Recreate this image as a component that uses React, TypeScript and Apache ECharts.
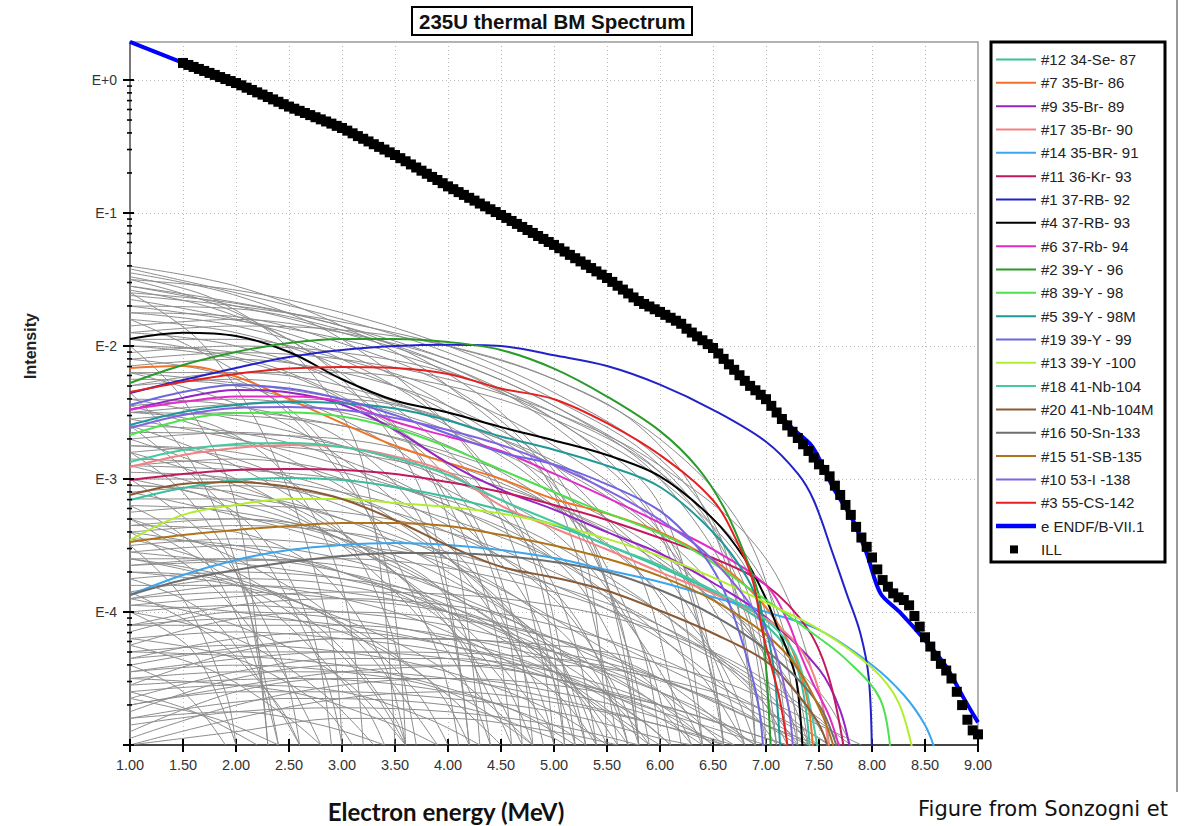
import React, { useEffect, useRef } from "react";
import * as echarts from "echarts";

const FONT = "Liberation Sans, Arial, Helvetica, sans-serif";

// ---- axis scaffolding ----
const xTickMin = 1;
const xTickMax = 9;
const xTickStep = 0.5;
const yMin = 1e-5;
const yMax = 1.93;
const decadeExps = [-5, -4, -3, -2, -1, 0];
const minorMantissas = [2, 3, 4, 5, 6, 7, 8, 9];

// ---- ILL measured spectrum: [energy MeV, log10 intensity] ----
const illPoints = [
  [1.5, 0.128], [1.55, 0.113], [1.6, 0.098], [1.65, 0.083], [1.7, 0.068], [1.75, 0.053], [1.8, 0.038], [1.85, 0.022], [1.9, 0.007], [1.95, -0.008],
  [2.0, -0.023], [2.05, -0.04], [2.1, -0.058], [2.15, -0.075], [2.2, -0.093], [2.25, -0.11], [2.3, -0.128], [2.35, -0.146], [2.4, -0.164], [2.45, -0.182],
  [2.5, -0.2], [2.55, -0.216], [2.6, -0.232], [2.65, -0.248], [2.7, -0.264], [2.75, -0.28], [2.8, -0.296], [2.85, -0.312], [2.9, -0.328], [2.95, -0.345],
  [3.0, -0.361], [3.05, -0.381], [3.1, -0.401], [3.15, -0.422], [3.2, -0.442], [3.25, -0.462], [3.3, -0.483], [3.35, -0.503], [3.4, -0.523], [3.45, -0.544],
  [3.5, -0.564], [3.55, -0.588], [3.6, -0.611], [3.65, -0.635], [3.7, -0.658], [3.75, -0.682], [3.8, -0.705], [3.85, -0.729], [3.9, -0.752], [3.95, -0.776],
  [4.0, -0.8], [4.05, -0.821], [4.1, -0.843], [4.15, -0.864], [4.2, -0.886], [4.25, -0.907], [4.3, -0.929], [4.35, -0.95], [4.4, -0.972], [4.45, -0.993],
  [4.5, -1.015], [4.55, -1.037], [4.6, -1.06], [4.65, -1.082], [4.7, -1.105], [4.75, -1.128], [4.8, -1.15], [4.85, -1.173], [4.9, -1.195], [4.95, -1.218],
  [5.0, -1.24], [5.05, -1.265], [5.1, -1.29], [5.15, -1.315], [5.2, -1.34], [5.25, -1.364], [5.3, -1.389], [5.35, -1.414], [5.4, -1.439], [5.45, -1.464],
  [5.5, -1.489], [5.55, -1.518], [5.6, -1.547], [5.65, -1.576], [5.7, -1.605], [5.75, -1.635], [5.8, -1.662], [5.85, -1.684], [5.9, -1.703], [5.95, -1.724],
  [6.0, -1.744], [6.05, -1.766], [6.1, -1.788], [6.15, -1.81], [6.2, -1.833], [6.25, -1.87], [6.3, -1.899], [6.35, -1.928], [6.4, -1.957], [6.45, -1.986],
  [6.5, -2.015], [6.55, -2.056], [6.6, -2.097], [6.65, -2.138], [6.7, -2.179], [6.75, -2.22], [6.8, -2.262], [6.85, -2.3], [6.9, -2.333], [6.95, -2.367],
  [7.0, -2.4], [7.05, -2.45], [7.1, -2.5], [7.15, -2.549], [7.2, -2.597], [7.25, -2.645], [7.3, -2.692], [7.35, -2.739], [7.4, -2.789], [7.45, -2.839],
  [7.5, -2.89], [7.55, -2.932], [7.6, -2.98], [7.65, -3.05], [7.7, -3.12], [7.75, -3.195], [7.8, -3.27], [7.85, -3.36], [7.9, -3.44], [7.95, -3.51],
  [8.0, -3.59], [8.05, -3.68], [8.1, -3.76], [8.15, -3.81], [8.2, -3.86], [8.25, -3.89], [8.3, -3.91], [8.35, -3.95], [8.4, -4.03], [8.45, -4.11],
  [8.5, -4.19], [8.55, -4.26], [8.6, -4.33], [8.65, -4.39], [8.7, -4.44], [8.75, -4.5], [8.8, -4.6], [8.85, -4.7], [8.9, -4.81], [8.95, -4.89],
  [9.0, -4.92],
];

// ---- ENDF/B-VII.1 summation ----
const endfPoints = [
  [1.0, 0.286], [1.25, 0.207], [1.5, 0.128], [1.75, 0.052], [2.0, -0.023], [2.25, -0.11], [2.5, -0.2], [2.75, -0.28], [3.0, -0.361], [3.25, -0.462],
  [3.5, -0.564], [3.75, -0.682], [4.0, -0.8], [4.25, -0.907], [4.5, -1.015], [4.75, -1.128], [5.0, -1.24], [5.25, -1.364], [5.5, -1.489], [5.75, -1.63],
  [6.0, -1.744], [6.25, -1.87], [6.5, -2.015], [6.75, -2.22], [7.0, -2.41], [7.25, -2.62], [7.44, -2.76], [7.63, -3.06], [7.82, -3.31], [7.95, -3.56],
  [8.08, -3.86], [8.26, -4.0], [8.52, -4.23], [8.7, -4.41], [8.86, -4.64], [9.0, -4.83],
];

// ---- individual fission products: [energy MeV, log10 intensity] ----
const se87 = [[1.0, -3.158], [1.5, -3.068], [2.0, -3.008], [2.5, -2.992], [3.0, -3.008], [3.5, -3.06], [4.0, -3.135], [4.5, -3.233], [5.0, -3.346], [5.5, -3.496], [6.0, -3.662], [6.5, -3.85], [7.0, -4.098], [7.3, -4.436], [7.42, -5.1]];
const br86 = [[1.0, -2.165], [1.5, -2.15], [2.0, -2.23], [2.5, -2.4], [3.0, -2.58], [3.5, -2.75], [4.0, -2.88], [4.5, -3.0], [5.0, -3.15], [5.5, -3.26], [6.0, -3.4], [6.5, -3.61], [6.82, -3.81], [7.07, -4.04], [7.25, -4.29], [7.39, -4.66], [7.45, -5.1]];
const br89 = [[1.0, -2.48], [1.5, -2.39], [2.0, -2.33], [2.5, -2.35], [3.0, -2.44], [3.5, -2.63], [4.0, -2.88], [4.5, -3.08], [5.0, -3.23], [5.5, -3.4], [6.0, -3.56], [6.5, -3.78], [7.0, -4.04], [7.5, -4.43], [7.7, -4.74], [7.81, -5.1]];
const br90 = [[1.0, -2.91], [1.5, -2.82], [2.0, -2.767], [2.5, -2.744], [3.0, -2.76], [3.5, -2.83], [4.0, -2.95], [4.5, -3.2], [5.0, -3.37], [5.5, -3.53], [6.0, -3.7], [6.5, -3.86], [7.0, -4.05], [7.3, -4.25], [7.5, -4.59], [7.6, -5.1]];
const br91 = [[1.0, -3.872], [1.5, -3.722], [2.0, -3.609], [2.5, -3.534], [3.0, -3.496], [3.5, -3.481], [4.0, -3.496], [4.5, -3.534], [5.0, -3.594], [5.5, -3.684], [6.0, -3.774], [6.5, -3.887], [7.0, -4.0], [7.5, -4.135], [8.0, -4.398], [8.3, -4.624], [8.5, -4.85], [8.6, -5.05]];
const kr93 = [[1.0, -3.008], [1.5, -2.962], [2.0, -2.932], [2.5, -2.925], [3.0, -2.932], [3.5, -2.962], [4.0, -3.023], [4.5, -3.098], [5.0, -3.195], [5.5, -3.308], [6.0, -3.444], [6.5, -3.594], [7.0, -3.797], [7.4, -4.135], [7.6, -4.511], [7.75, -5.1]];
const rb92 = [[1.0, -2.353], [1.5, -2.256], [2.0, -2.165], [2.5, -2.083], [3.0, -2.03], [3.5, -2.0], [4.0, -1.99], [4.5, -2.0], [5.0, -2.07], [5.5, -2.15], [6.0, -2.29], [6.5, -2.48], [7.0, -2.72], [7.3, -2.96], [7.45, -3.16], [7.63, -3.56], [7.76, -3.86], [7.89, -4.16], [7.97, -4.5], [8.0, -5.1]];
const rb93 = [[1.0, -1.947], [1.5, -1.9], [2.0, -1.925], [2.5, -2.045], [3.0, -2.25], [3.5, -2.41], [4.0, -2.5], [4.5, -2.61], [5.0, -2.71], [5.5, -2.82], [6.0, -2.98], [6.5, -3.3], [6.8, -3.6], [7.0, -3.9], [7.1, -4.1], [7.2, -4.29], [7.29, -4.53], [7.35, -5.1]];
const rb94 = [[1.0, -2.48], [1.5, -2.42], [2.0, -2.38], [2.5, -2.38], [3.0, -2.42], [3.5, -2.57], [4.0, -2.68], [4.5, -2.79], [5.0, -2.96], [5.5, -3.14], [6.0, -3.33], [6.5, -3.53], [7.0, -3.8], [7.2, -4.06], [7.32, -4.31], [7.44, -4.53], [7.6, -4.79], [7.72, -5.1]];
const y96 = [[1.0, -2.278], [1.5, -2.143], [2.0, -2.045], [2.5, -1.977], [3.0, -1.947], [3.5, -1.947], [4.0, -1.97], [4.5, -2.03], [5.0, -2.17], [5.5, -2.38], [6.0, -2.64], [6.35, -2.91], [6.6, -3.21], [6.82, -3.61], [6.94, -3.91], [7.0, -4.41], [7.05, -5.1]];
const y98 = [[1.0, -2.669], [1.5, -2.556], [2.0, -2.504], [2.5, -2.5], [3.0, -2.53], [3.5, -2.62], [4.0, -2.76], [4.5, -2.93], [5.25, -3.18], [6.19, -3.48], [6.82, -3.81], [7.44, -4.16], [7.76, -4.36], [8.08, -4.66], [8.18, -5.1]];
const y98m = [[1.0, -2.594], [1.5, -2.496], [2.0, -2.444], [2.5, -2.421], [3.0, -2.43], [3.5, -2.47], [4.0, -2.56], [4.5, -2.68], [5.0, -2.78], [5.5, -2.9], [6.0, -3.06], [6.5, -3.4], [6.82, -3.74], [6.97, -4.04], [7.07, -4.41], [7.14, -5.1]];
const y99 = [[1.0, -2.444], [1.5, -2.346], [2.0, -2.293], [2.5, -2.32], [3.0, -2.4], [3.5, -2.52], [4.0, -2.66], [4.5, -2.8], [5.0, -2.89], [5.5, -3.04], [6.0, -3.24], [6.35, -3.51], [6.57, -3.78], [6.75, -4.16], [6.92, -4.66], [6.98, -5.1]];
const y100 = [[1.0, -3.459], [1.5, -3.27], [2.0, -3.195], [2.5, -3.15], [3.0, -3.15], [3.5, -3.18], [4.0, -3.21], [4.5, -3.26], [5.0, -3.34], [5.5, -3.45], [6.0, -3.58], [6.5, -3.74], [7.0, -3.93], [7.5, -4.13], [8.0, -4.42], [8.25, -4.68], [8.4, -5.1]];
const nb104 = [[1.0, -2.872], [1.5, -2.782], [2.0, -2.737], [2.5, -2.729], [3.0, -2.759], [3.5, -2.842], [4.0, -2.97], [4.5, -3.158], [5.0, -3.323], [5.5, -3.496], [6.0, -3.647], [6.5, -3.835], [7.0, -4.06], [7.3, -4.361], [7.5, -5.1]];
const nb104m = [[1.0, -3.12], [1.5, -3.038], [2.0, -3.023], [2.5, -3.06], [3.0, -3.15], [3.5, -3.31], [4.0, -3.5], [4.5, -3.66], [5.0, -3.74], [5.5, -3.84], [6.0, -3.99], [6.5, -4.16], [7.0, -4.37], [7.29, -4.61], [7.51, -4.86], [7.61, -5.1]];
const sn133 = [[1.0, -3.872], [1.5, -3.759], [2.0, -3.684], [2.5, -3.624], [3.0, -3.579], [3.5, -3.556], [4.0, -3.556], [4.5, -3.579], [5.0, -3.624], [5.5, -3.699], [6.0, -3.835], [6.5, -4.023], [7.0, -4.286], [7.5, -4.699], [7.7, -5.1]];
const sb135 = [[1.0, -3.474], [1.5, -3.421], [2.0, -3.383], [2.5, -3.353], [3.0, -3.331], [3.5, -3.331], [4.0, -3.353], [4.5, -3.42], [5.0, -3.5], [5.5, -3.6], [6.0, -3.73], [6.5, -3.91], [7.0, -4.17], [7.29, -4.414], [7.54, -4.79], [7.67, -5.1]];
const i138 = [[1.0, -2.617], [1.5, -2.519], [2.0, -2.466], [2.5, -2.459], [3.0, -2.48], [3.5, -2.541], [4.0, -2.632], [4.5, -2.744], [5.0, -2.895], [5.5, -3.083], [6.0, -3.308], [6.5, -3.61], [7.0, -4.135], [7.2, -4.66], [7.26, -5.1]];
const cs142 = [[1.0, -2.346], [1.5, -2.27], [2.0, -2.21], [2.5, -2.17], [3.0, -2.158], [3.5, -2.165], [4.0, -2.21], [4.5, -2.32], [5.0, -2.4], [5.5, -2.58], [6.0, -2.82], [6.5, -3.16], [6.75, -3.51], [6.88, -3.78], [6.97, -4.16], [7.13, -4.66], [7.22, -5.1]];

const isotopeNames = [
  "#12 34-Se- 87", "#7 35-Br- 86", "#9 35-Br- 89", "#17 35-Br- 90", "#14 35-BR- 91",
  "#11 36-Kr- 93", "#1 37-RB- 92", "#4 37-RB- 93", "#6 37-Rb- 94", "#2 39-Y - 96",
  "#8 39-Y - 98", "#5 39-Y - 98M", "#19 39-Y - 99", "#13 39-Y -100", "#18 41-Nb-104",
  "#20 41-Nb-104M", "#16 50-Sn-133", "#15 51-SB-135", "#10 53-I -138", "#3 55-CS-142",
];
const isotopeData = [se87, br86, br89, br90, br91, kr93, rb92, rb93, rb94, y96, y98, y98m, y99, y100, nb104, nb104m, sn133, sb135, i138, cs142];
const isotopeColors = [
  "#3cbf9c", "#f07428", "#9424c4", "#f28482", "#3aa6ee",
  "#c2185e", "#2222c8", "#000000", "#e22cc8", "#2a9a2a",
  "#4ee24e", "#1e9898", "#6e66e0", "#b2ee2e", "#46c8a2",
  "#8a5a34", "#6e6e6e", "#b07418", "#8462e2", "#e42020",
];

// ---- other individual beta spectra (grey background) ----
const greyCurves = [
  [[1, -1.4], [2, -1.55], [3, -1.85], [4, -2.3], [5, -3.1], [5.6, -5]],
  [[1, -1.45], [2, -1.62], [3, -1.95], [4, -2.6], [4.8, -3.6], [5.1, -5]],
  [[1, -1.5], [2, -1.75], [3, -2.25], [3.8, -3.2], [4.2, -5]],
  [[1, -1.55], [2, -1.7], [3, -1.9], [4, -2.15], [5, -2.55], [6, -3.2], [6.6, -5]],
  [[1, -1.6], [2, -1.68], [3, -1.85], [4, -2.1], [5, -2.45], [6, -3.0], [6.8, -4.0], [7.0, -5]],
  [[1, -1.48], [1.8, -1.65], [2.6, -2.1], [3.2, -2.9], [3.5, -5]],
  [[1, -1.65], [2, -1.8], [3, -2.05], [4, -2.45], [5, -3.05], [5.8, -4.2], [6.0, -5]],
  [[1, -1.7], [2, -1.72], [3, -1.88], [4, -2.15], [5, -2.6], [6, -3.4], [6.4, -5]],
  [[1, -1.75], [2, -1.85], [3, -2.1], [4, -2.6], [4.8, -3.5], [5.2, -5]],
  [[1, -1.8], [2, -1.9], [3, -2.15], [4, -2.5], [5, -3.1], [5.5, -3.8], [5.8, -5]],
  [[1, -1.85], [2, -1.8], [3, -1.9], [4, -2.1], [5, -2.45], [6, -2.95], [6.7, -3.7], [7.1, -5]],
  [[1, -1.9], [2, -2.0], [3, -2.3], [3.8, -2.9], [4.4, -4], [4.6, -5]],
  [[1, -1.95], [2, -1.95], [3, -2.1], [4, -2.35], [5, -2.75], [6, -3.4], [6.5, -4.5], [6.6, -5]],
  [[1, -2.0], [2, -2.1], [3, -2.4], [4, -3.0], [4.6, -4.0], [4.8, -5]],
  [[1, -2.05], [2, -2.0], [3, -2.05], [4, -2.2], [5, -2.5], [6, -2.95], [7, -3.8], [7.4, -5]],
  [[1, -2.1], [2, -2.25], [2.8, -2.7], [3.4, -3.6], [3.6, -5]],
  [[1, -2.15], [2, -2.1], [3, -2.2], [4, -2.45], [5, -2.9], [5.8, -3.7], [6.2, -5]],
  [[1, -2.2], [2, -2.2], [3, -2.3], [4, -2.6], [5, -3.15], [5.6, -4], [5.8, -5]],
  [[1, -2.25], [2, -2.3], [3, -2.55], [4, -3.1], [4.5, -3.9], [4.7, -5]],
  [[1, -2.3], [2, -2.25], [3, -2.35], [4, -2.55], [5, -2.9], [6, -3.45], [6.8, -4.4], [7.0, -5]],
  [[1, -2.4], [2, -2.45], [3, -2.7], [3.8, -3.4], [4.2, -5]],
  [[1, -2.45], [2, -2.4], [3, -2.5], [4, -2.75], [5, -3.2], [6, -3.9], [6.4, -5]],
  [[1, -2.5], [1.8, -2.6], [2.5, -3.0], [3.0, -3.8], [3.2, -5]],
  [[1, -2.55], [2, -2.5], [3, -2.6], [4, -2.8], [5, -3.1], [6, -3.55], [7, -4.3], [7.3, -5]],
  [[1, -2.6], [2, -2.65], [3, -2.85], [4, -3.25], [4.8, -4.0], [5.1, -5]],
  [[1, -2.7], [2, -2.65], [3, -2.75], [4, -3.0], [5, -3.4], [5.8, -4.2], [6.1, -5]],
  [[1, -2.75], [2, -2.85], [2.8, -3.2], [3.4, -4], [3.7, -5]],
  [[1, -2.8], [2, -2.75], [3, -2.8], [4, -2.95], [5, -3.2], [6, -3.6], [7, -4.3], [7.6, -5]],
  [[1, -2.85], [2, -2.9], [3, -3.1], [4, -3.5], [4.6, -4.2], [4.9, -5]],
  [[1, -2.9], [2, -2.85], [3, -2.95], [4, -3.2], [5, -3.6], [5.6, -4.3], [5.8, -5]],
  [[1, -3.0], [2, -3.0], [3, -3.1], [4, -3.3], [5, -3.6], [6, -4.0], [6.9, -4.6], [7.2, -5]],
  [[1, -3.05], [1.6, -3.1], [2.2, -3.4], [2.7, -4.1], [2.9, -5]],
  [[1, -3.1], [2, -3.05], [3, -3.15], [4, -3.4], [5, -3.85], [5.5, -4.5], [5.7, -5]],
  [[1, -3.2], [2, -3.25], [3, -3.45], [4, -3.9], [4.4, -5]],
  [[1, -3.25], [2, -3.2], [3, -3.25], [4, -3.4], [5, -3.7], [6, -4.1], [7, -4.6], [7.4, -5]],
  [[1, -3.3], [2, -3.3], [3, -3.45], [4, -3.75], [5, -4.3], [5.3, -5]],
  [[1, -3.35], [2, -3.4], [2.8, -3.7], [3.4, -4.4], [3.6, -5]],
  [[1, -3.4], [2, -3.35], [3, -3.4], [4, -3.55], [5, -3.8], [6, -4.2], [6.8, -4.7], [7.1, -5]],
  [[1, -3.45], [2, -3.5], [3, -3.7], [4, -4.1], [4.7, -5]],
  [[1, -3.5], [2, -3.45], [3, -3.5], [4, -3.6], [5, -3.8], [6, -4.1], [7, -4.55], [7.8, -5]],
  [[1, -3.6], [2, -3.6], [3, -3.7], [4, -3.95], [5, -4.4], [5.6, -5]],
  [[1, -3.65], [2, -3.6], [3, -3.65], [4, -3.8], [5, -4.05], [6, -4.4], [7, -4.8], [7.4, -5]],
  [[1, -3.7], [1.8, -3.75], [2.5, -4.0], [3.2, -4.5], [3.6, -5]],
  [[1, -3.75], [2, -3.7], [3, -3.75], [4, -3.9], [5, -4.2], [6, -4.6], [6.6, -5]],
  [[1, -3.8], [2, -3.8], [3, -3.9], [4, -4.15], [5, -4.6], [5.4, -5]],
  [[1, -3.9], [2, -3.85], [3, -3.9], [4, -4.0], [5, -4.2], [6, -4.5], [7, -4.85], [7.5, -5]],
  [[1, -3.95], [2, -4.0], [3, -4.15], [3.8, -4.5], [4.5, -5]],
  [[1, -4.0], [2, -3.95], [3, -4.0], [4, -4.1], [5, -4.3], [6, -4.6], [6.9, -5]],
  [[1, -4.1], [2, -4.05], [3, -4.1], [4, -4.25], [5, -4.5], [5.9, -5]],
  [[1, -4.2], [2, -4.15], [3, -4.2], [4, -4.3], [5, -4.5], [6, -4.75], [7, -5]],
  [[1, -4.3], [2, -4.25], [3, -4.3], [4, -4.45], [5, -4.75], [5.5, -5]],
  [[1, -4.35], [2, -4.3], [3, -4.3], [4, -4.35], [5, -4.5], [6, -4.7], [7, -4.95], [7.2, -5]],
  [[1, -4.45], [2, -4.4], [3, -4.45], [4, -4.6], [4.8, -5]],
  [[1, -4.5], [2, -4.45], [3, -4.45], [4, -4.5], [5, -4.65], [6, -4.85], [6.6, -5]],
  [[1, -4.6], [2, -4.55], [3, -4.6], [3.8, -4.8], [4.3, -5]],
  [[1, -4.7], [2, -4.6], [3, -4.6], [4, -4.65], [5, -4.75], [6, -4.95], [6.3, -5]],
  [[1, -4.8], [2, -4.75], [2.8, -4.85], [3.4, -5]],
  [[1, -4.85], [2, -4.75], [3, -4.72], [4, -4.75], [5, -4.85], [5.8, -5]],
  [[1, -2.0], [1.5, -2.4], [2.0, -3.2], [2.3, -5]],
  [[1, -2.35], [1.6, -2.9], [2.1, -3.9], [2.3, -5]],
  [[1, -1.6], [1.7, -2.0], [2.4, -2.9], [2.9, -4.2], [3.0, -5]],
  [[1, -2.6], [2.0, -3.3], [2.8, -4.4], [3.0, -5]],
  [[1, -1.8], [2.2, -2.3], [3.2, -3.2], [3.9, -4.3], [4.1, -5]],
  [[1, -3.0], [1.8, -3.5], [2.4, -4.3], [2.6, -5]],
  [[1, -2.2], [2.5, -2.6], [3.8, -3.4], [4.8, -4.5], [5.0, -5]],
  [[1, -1.95], [2.5, -2.2], [4.0, -2.9], [5.0, -3.8], [5.4, -5]],
  [[1, -3.3], [2.2, -3.9], [3.2, -4.7], [3.4, -5]],
  [[1, -2.9], [2.6, -3.3], [4.0, -4.0], [4.9, -4.8], [5.0, -5]],
  [[1, -3.6], [2.5, -3.9], [3.8, -4.5], [4.2, -5]],
  [[1, -1.42], [2.0, -1.6], [3.0, -1.8], [4.0, -2.05], [5.0, -2.4], [6.0, -2.9], [6.8, -3.8], [7.1, -5]],
  [[1, -1.7], [3, -1.95], [4.5, -2.35], [5.5, -2.85], [6.3, -3.8], [6.6, -5]],
  [[1, -2.5], [3, -2.4], [4.5, -2.7], [5.5, -3.1], [6.5, -3.8], [7.2, -4.6], [7.4, -5]],
  [[1, -2.65], [3, -2.7], [5, -3.2], [6.5, -3.9], [7.5, -4.6], [7.8, -5]],
  [[1, -1.55], [2.5, -1.75], [3.5, -2.0], [4.5, -2.5], [5.2, -3.2], [5.7, -4.3], [5.9, -5]],
  [[1, -4.0], [1.6, -4.3], [2.0, -5]],
  [[1, -3.5], [1.5, -3.9], [1.9, -4.6], [2.0, -5]],
  [[1, -1.5], [2, -1.58], [3, -1.75], [4, -2.0], [5, -2.35], [6, -2.85], [6.6, -3.5], [6.9, -5]],
  [[1, -1.62], [2, -1.7], [3, -1.82], [4, -2.0], [5, -2.25], [5.8, -2.6], [6.4, -3.2], [6.8, -4.2], [6.9, -5]],
  [[1, -1.9], [2, -1.85], [3, -1.88], [4, -2.0], [5, -2.25], [6, -2.7], [6.8, -3.4], [7.2, -4.4], [7.3, -5]],
  [[1, -2.1], [2, -2.05], [3, -2.1], [4, -2.25], [5, -2.5], [6, -2.9], [7, -3.6], [7.5, -4.6], [7.6, -5]],
  [[1, -2.3], [2, -2.2], [3, -2.2], [4, -2.3], [5, -2.55], [6, -3.0], [6.9, -3.8], [7.2, -5]],
  [[1, -1.75], [2, -1.78], [3, -1.98], [4, -2.3], [4.8, -2.8], [5.3, -3.6], [5.5, -5]],
  [[1, -1.58], [1.8, -1.72], [2.6, -2.0], [3.4, -2.5], [4.0, -3.3], [4.3, -5]],
  [[1, -2.0], [2, -2.05], [3, -2.25], [3.8, -2.65], [4.5, -3.3], [4.9, -4.4], [5.0, -5]],
  [[1, -4.1], [2, -3.95], [3, -3.9], [4, -3.95], [5, -4.1], [6, -4.35], [7, -4.75], [7.5, -5]],
  [[1, -4.25], [2, -4.05], [3, -4.0], [4, -4.05], [5, -4.2], [6, -4.5], [6.8, -5]],
  [[1, -4.55], [2, -4.3], [3, -4.2], [4, -4.2], [5, -4.3], [6, -4.5], [7, -4.85], [7.4, -5]],
  [[1, -4.65], [2, -4.45], [3, -4.35], [4, -4.35], [5, -4.45], [6, -4.7], [6.7, -5]],
  [[1, -4.9], [2, -4.6], [3, -4.5], [4, -4.5], [5, -4.6], [6, -4.8], [6.6, -5]],
  [[1, -5.0], [2, -4.8], [3, -4.65], [4, -4.6], [5, -4.68], [6, -4.85], [6.7, -5]],
  [[1, -5.0], [2, -4.9], [3, -4.8], [4, -4.8], [5, -4.9], [5.6, -5]],
  [[1, -3.85], [2, -3.75], [3, -3.8], [4, -4.0], [5, -4.35], [5.8, -4.8], [6.1, -5]],
  [[1, -3.55], [2, -3.5], [3, -3.6], [4, -3.85], [5, -4.25], [5.7, -4.8], [5.9, -5]],
  [[1, -3.15], [2, -3.15], [3, -3.3], [4, -3.6], [5, -4.1], [5.5, -4.6], [5.7, -5]],
  [[1, -2.95], [2, -3.0], [3, -3.2], [4, -3.6], [4.8, -4.2], [5.2, -5]],
  [[1, -3.9], [2, -4.1], [3, -4.5], [3.6, -5]],
  [[1, -3.3], [2, -3.6], [3, -4.1], [3.9, -5]],
  [[1, -2.7], [2, -3.0], [3, -3.5], [4, -4.3], [4.4, -5]],
  [[1, -2.8], [2.5, -3.2], [3.5, -3.7], [4.5, -4.5], [4.8, -5]],
  [[1, -3.1], [3, -3.5], [4.5, -4.1], [5.5, -4.8], [5.7, -5]],
  [[1, -3.4], [3, -3.7], [4.5, -4.2], [5.8, -4.9], [6.0, -5]],
  [[1, -2.4], [3, -2.75], [4.5, -3.3], [5.5, -3.9], [6.2, -4.7], [6.4, -5]],
  [[1, -2.55], [3, -2.9], [5, -3.6], [6.3, -4.4], [6.8, -5]],
  [[1, -4.4], [1.5, -4.6], [1.9, -5]],
  [[1, -4.6], [1.6, -4.75], [2.2, -5]],
  [[1, -3.2], [1.6, -3.5], [2.1, -4.2], [2.4, -5]],
  [[1, -3.75], [1.7, -4.0], [2.3, -4.6], [2.6, -5]],
  [[1, -2.8], [1.5, -3.1], [2.0, -3.7], [2.3, -4.6], [2.4, -5]],
  [[1, -4.2], [2, -4.35], [2.8, -4.7], [3.1, -5]],
  [[1, -4.5], [2.5, -4.6], [3.5, -4.85], [3.9, -5]],
  [[1, -4.4], [3, -4.2], [5, -4.25], [6.5, -4.5], [7.5, -4.85], [7.9, -5]],
  [[1, -4.7], [3, -4.45], [5, -4.4], [6.5, -4.6], [7.4, -4.9], [7.6, -5]],
  [[1, -3.95], [3, -3.85], [5, -3.95], [6.5, -4.3], [7.5, -4.8], [7.7, -5]],
  [[1, -4.15], [2, -4.0], [3, -4.05], [4, -4.2], [5, -4.45], [5.8, -4.8], [6.1, -5]],
  [[1, -4.35], [2, -4.2], [3, -4.15], [4, -4.25], [5, -4.45], [6, -4.8], [6.4, -5]],
  [[1, -4.75], [2, -4.5], [3, -4.4], [4, -4.4], [5, -4.5], [6, -4.75], [6.5, -5]],
  [[1, -4.95], [2, -4.7], [3, -4.55], [4, -4.5], [5, -4.55], [6, -4.7], [7, -4.95], [7.2, -5]],
  [[1, -3.7], [2, -3.8], [3, -4.05], [4, -4.45], [4.8, -5]],
  [[1, -3.6], [2, -3.75], [3, -4.1], [3.7, -4.6], [4.0, -5]],
  [[1, -4.0], [2, -4.2], [2.8, -4.6], [3.3, -5]],
  [[1, -3.45], [2, -3.7], [2.9, -4.2], [3.5, -4.8], [3.6, -5]],
  [[1, -2.6], [2, -2.9], [3, -3.4], [4, -4.1], [4.6, -5]],
  [[1, -2.45], [2.5, -2.85], [4, -3.6], [5, -4.4], [5.3, -5]],
  [[1, -3.0], [2.5, -3.3], [4, -3.85], [5.2, -4.6], [5.5, -5]],
  [[1, -3.55], [3, -3.75], [4.5, -4.1], [5.8, -4.6], [6.3, -5]],
  [[1, -4.1], [3, -4.1], [5, -4.35], [6.3, -4.7], [6.9, -5]],
  [[1, -4.3], [3, -4.4], [4.5, -4.7], [5.2, -5]],
  [[1, -4.55], [2.5, -4.5], [4, -4.6], [5, -4.85], [5.3, -5]],
  [[1, -4.8], [2.5, -4.65], [4, -4.7], [5, -4.95], [5.1, -5]],
  [[1, -3.9], [2, -3.8], [3, -3.85], [4, -4.0], [5, -4.3], [6, -4.7], [6.5, -5]],
  [[1, -3.35], [2, -3.3], [3, -3.4], [4, -3.65], [5, -4.05], [6, -4.6], [6.3, -5]],
  [[1, -3.05], [2, -3.1], [3, -3.3], [4, -3.7], [5, -4.3], [5.4, -5]],
  [[1, -2.75], [2, -2.8], [3, -3.0], [4, -3.35], [5, -3.9], [5.6, -4.6], [5.8, -5]],
  [[1, -4.25], [1.8, -4.45], [2.5, -4.8], [2.8, -5]],
  [[1, -3.85], [1.8, -4.2], [2.4, -4.7], [2.6, -5]],
  [[1, -4.65], [1.8, -4.8], [2.4, -5]],
  [[1, -3.4], [1.7, -3.75], [2.4, -4.4], [2.8, -5]],
  [[1, -3.65], [3, -3.6], [5, -3.85], [6.5, -4.35], [7.4, -4.9], [7.6, -5]],
  [[1, -4.45], [3, -4.3], [5, -4.35], [6.5, -4.65], [7.3, -5]],
  [[1, -2.2], [3, -2.4], [4.5, -2.8], [5.5, -3.3], [6.3, -4.0], [6.8, -5]],
  [[1, -2.5], [3, -2.6], [4.5, -3.0], [5.5, -3.5], [6.5, -4.3], [6.9, -5]],
  [[1, -2.9], [3, -3.0], [4.5, -3.3], [6, -4.0], [7, -4.7], [7.3, -5]],
];

const toData = (pts: number[][]) => pts.map(([e, l]) => [e, Math.pow(10, l)]);

const svgIcon = (body: string) =>
  "image://data:image/svg+xml;charset=utf-8," +
  encodeURIComponent(
    '<svg xmlns="http://www.w3.org/2000/svg" width="40" height="12" viewBox="0 0 40 12">' + body + "</svg>"
  );
const lineIcon = (color: string, w: number) =>
  svgIcon('<line x1="0" y1="6" x2="40" y2="6" stroke="' + color + '" stroke-width="' + w + '"/>');
const illIcon = svgIcon('<rect x="14" y="2" width="8" height="8" fill="#000"/>');

function buildOption() {
  const series: any[] = [];
  greyCurves.forEach((c) => {
    series.push({
      type: "line",
      data: toData(c),
      smooth: 0.35,
      symbol: "none",
      showSymbol: false,
      silent: true,
      clip: true,
      lineStyle: { color: "#8c8c8c", width: 1 },
      z: 2,
    });
  });
  isotopeNames.forEach((name, i) => {
    series.push({
      name,
      type: "line",
      data: toData(isotopeData[i]),
      smooth: 0.35,
      symbol: "none",
      showSymbol: false,
      silent: true,
      clip: true,
      lineStyle: { color: isotopeColors[i], width: 2 },
      itemStyle: { color: isotopeColors[i] },
      z: 3,
    });
  });
  series.push({
    name: "e ENDF/B-VII.1",
    type: "line",
    data: toData(endfPoints),
    smooth: 0.3,
    symbol: "none",
    showSymbol: false,
    silent: true,
    clip: true,
    lineStyle: { color: "#0000ff", width: 4 },
    itemStyle: { color: "#0000ff" },
    z: 4,
  });
  series.push({
    name: "ILL",
    type: "scatter",
    data: toData(illPoints),
    symbol: "rect",
    symbolSize: 10,
    silent: true,
    itemStyle: { color: "#000000", opacity: 1 },
    z: 5,
  });
  const tickData: number[][] = [];
  decadeExps.forEach((d) => {
    tickData.push([xTickMin, Math.pow(10, d), 1]);
    minorMantissas.forEach((m) => {
      const v = m * Math.pow(10, d);
      if (v < yMax) tickData.push([xTickMin, v, 0]);
    });
  });
  series.push({
    type: "custom",
    silent: true,
    clip: false,
    z: 10,
    data: tickData,
    renderItem: (params: any, api: any) => {
      const p = api.coord([api.value(0), api.value(1)]);
      const major = api.value(2) === 1;
      return {
        type: "line",
        shape: { x1: p[0] - (major ? 7 : 3), y1: p[1], x2: p[0] + (major ? 4 : 2), y2: p[1] },
        style: { stroke: "#000", lineWidth: major ? 2 : 1.6 },
      };
    },
  });

  const legendData: any[] = isotopeNames.map((n, i) => ({ name: n, icon: lineIcon(isotopeColors[i], 2) }));
  legendData.push({ name: "e ENDF/B-VII.1", icon: lineIcon("#0000ff", 4.5) });
  legendData.push({ name: "ILL", icon: illIcon });

  return {
    animation: false,
    backgroundColor: "#ffffff",
    title: {
      text: "235U thermal BM Spectrum",
      left: 412,
      top: 7,
      padding: [4, 7, 3, 7],
      borderColor: "#000",
      borderWidth: 2,
      textStyle: { fontSize: 20.5, fontWeight: "bold", fontFamily: FONT, color: "#111" },
    },
    grid: {
      left: 130,
      top: 42,
      width: 848,
      height: 703,
      show: true,
      borderColor: "#999",
      borderWidth: 1.5,
    },
    legend: {
      orient: "vertical",
      left: 996,
      top: 52,
      padding: 0,
      itemWidth: 40,
      itemHeight: 12,
      itemGap: 8.33,
      selectedMode: false,
      data: legendData,
      textStyle: { fontSize: 15, color: "#222", fontFamily: FONT },
    },
    xAxis: [
      {
        type: "value",
        min: xTickMin,
        max: xTickMax,
        interval: xTickStep,
        axisLine: { lineStyle: { color: "#444", width: 2 } },
        axisTick: { length: 7, lineStyle: { color: "#000", width: 2 } },
        axisLabel: {
          formatter: (v: number) => v.toFixed(2),
          color: "#333",
          fontSize: 14.5,
          fontFamily: FONT,
          margin: 12,
        },
        splitLine: { show: true, lineStyle: { color: "#b8b8b8", type: [1, 3], width: 1 } },
      },
      {
        type: "value",
        min: xTickMin,
        max: xTickMax,
        interval: xTickStep,
        position: "bottom",
        axisLine: { show: false },
        axisTick: { inside: true, length: 6, lineStyle: { color: "#000", width: 2 } },
        axisLabel: { show: false },
        splitLine: { show: false },
      },
    ],
    yAxis: {
      type: "log",
      logBase: 10,
      min: yMin,
      max: yMax,
      axisLine: { show: true, lineStyle: { color: "#666", width: 1.5 } },
      axisTick: { show: false },
      minorTick: { show: false },
      axisLabel: {
        formatter: (v: number) => {
          const l = Math.log10(v);
          const e = Math.round(l);
          if (Math.abs(l - e) > 0.01 || e === -5) return "";
          return "E" + (e >= 0 ? "+" : "") + e;
        },
        color: "#333",
        fontSize: 14,
        fontFamily: FONT,
        margin: 13,
      },
      splitLine: { show: true, lineStyle: { color: "#b8b8b8", type: [1, 3], width: 1 } },
    },
    graphic: [
      {
        type: "rect",
        shape: { x: 991, y: 42, width: 174, height: 520 },
        style: { fill: "none", stroke: "#000", lineWidth: 3 },
        silent: true,
      },
      {
        type: "line",
        shape: { x1: 1177, y1: 0, x2: 1177, y2: 792 },
        style: { stroke: "#9a9a9a", lineWidth: 2 },
        silent: true,
      },
      {
        type: "text",
        x: 30,
        y: 346,
        rotation: Math.PI / 2,
        style: {
          text: "Intensity",
          font: "bold 16px Liberation Sans, Arial, sans-serif",
          fill: "#222",
          textAlign: "center",
          textVerticalAlign: "middle",
        },
        silent: true,
      },
      {
        type: "text",
        x: 446,
        y: 811,
        style: {
          text: "Electron energy (MeV)",
          font: "bold 24px Lato, sans-serif",
          fill: "#111",
          textAlign: "center",
          textVerticalAlign: "middle",
        },
        silent: true,
      },
      {
        type: "text",
        x: 918,
        y: 809,
        style: {
          text: "Figure from Sonzogni et",
          font: "21px Comic Sans MS, DejaVu Sans, sans-serif",
          fill: "#111",
          textAlign: "left",
          textVerticalAlign: "middle",
        },
        silent: true,
      },
    ],
    series,
  };
}

export default function App() {
  const ref = useRef<HTMLDivElement>(null);
  useEffect(() => {
    if (!ref.current) return;
    const chart = echarts.init(ref.current, null, { renderer: "svg" });
    chart.setOption(buildOption() as any);
    return () => chart.dispose();
  }, []);
  return (
    <div
      ref={ref}
      style={{ position: "absolute", left: 0, top: 0, width: 1186, height: 826, background: "#fff" }}
    />
  );
}
